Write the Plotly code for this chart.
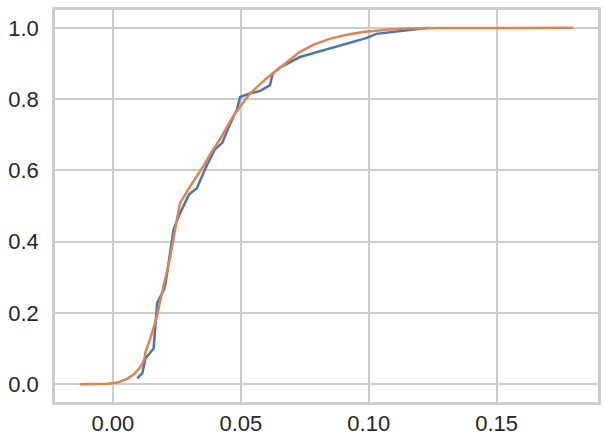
"""Empirical CDF vs fitted CDF, seaborn whitegrid look."""

import plotly.graph_objects as go

# ------------------------------------------------------------------
# Data
# ------------------------------------------------------------------

ECDF_X = [
    0.0095, 0.0115, 0.0127, 0.0145, 0.0159, 0.0173, 0.0186, 0.0200, 0.0206,
    0.0237, 0.0256, 0.0297, 0.0328, 0.0365, 0.0398, 0.0428, 0.0453, 0.0485,
    0.0497, 0.0536, 0.0576, 0.0614, 0.0625, 0.0652, 0.0731, 0.0847, 0.0990,
    0.1030, 0.1107, 0.1235,
]
ECDF_Y = [
    0.016, 0.031, 0.072, 0.089, 0.100, 0.228, 0.248, 0.266, 0.284,
    0.434, 0.470, 0.532, 0.550, 0.611, 0.658, 0.678, 0.722, 0.771,
    0.806, 0.816, 0.823, 0.839, 0.872, 0.888, 0.918, 0.942, 0.971,
    0.983, 0.990, 1.000,
]

FIT_X = [
    -0.013, -0.006, -0.002, 0.001, 0.003, 0.0055, 0.0081, 0.0107, 0.0123,
    0.0128, 0.0146, 0.0172, 0.0185, 0.0222, 0.0244, 0.0262, 0.0303, 0.0354,
    0.0386, 0.0419, 0.047, 0.0535, 0.060, 0.0665, 0.073, 0.0785, 0.0847,
    0.091, 0.0977, 0.108, 0.115, 0.1275, 0.15, 0.18,
]
FIT_Y = [
    0.0, 0.0003, 0.0015, 0.004, 0.0075, 0.015, 0.027, 0.048, 0.070,
    0.092, 0.128, 0.190, 0.235, 0.350, 0.443, 0.508, 0.556, 0.612,
    0.652, 0.688, 0.752, 0.815, 0.858, 0.895, 0.932, 0.953, 0.969,
    0.980, 0.988, 0.995, 0.998, 0.9995, 1.0, 1.0,
]

X_TICKS = [0.0, 0.05, 0.10, 0.15]
Y_TICKS = [0.0, 0.2, 0.4, 0.6, 0.8, 1.0]

# ------------------------------------------------------------------
# Style
# ------------------------------------------------------------------

BLUE = "#4C72B0"
ORANGE = "#DD8452"
GRID = "#CCCCCC"
TEXT = "#262626"
FONT = "Liberation Sans, Arial, sans-serif"

fig = go.Figure()
fig.add_trace(
    go.Scatter(x=ECDF_X, y=ECDF_Y, mode="lines", line=dict(color=BLUE, width=2.5))
)
fig.add_trace(
    go.Scatter(x=FIT_X, y=FIT_Y, mode="lines", line=dict(color=ORANGE, width=2.5))
)

axis_common = dict(
    showgrid=True,
    gridcolor=GRID,
    gridwidth=1.6,
    zeroline=False,
    showline=True,
    linecolor=GRID,
    linewidth=2.5,
    mirror=True,
    ticks="",
    automargin=False,
    tickfont=dict(size=22, color=TEXT, family=FONT),
)

fig.update_layout(
    width=606,
    height=446,
    paper_bgcolor="white",
    plot_bgcolor="white",
    showlegend=False,
    margin=dict(l=55, r=8, t=10, b=44),
    xaxis=dict(
        range=[-0.02265, 0.18965],
        tickvals=X_TICKS,
        tickformat=".2f",
        ticklabelstandoff=0,
        **axis_common,
    ),
    yaxis=dict(
        range=[-0.05, 1.05],
        tickvals=Y_TICKS,
        tickformat=".1f",
        ticklabelstandoff=9,
        **axis_common,
    ),
)

# drop the default 8px body margin so the figure sits at the page corner
fig.write_html(
    "out.html",
    config={"displayModeBar": False},
    post_script="document.body.style.margin = '0';",
)
